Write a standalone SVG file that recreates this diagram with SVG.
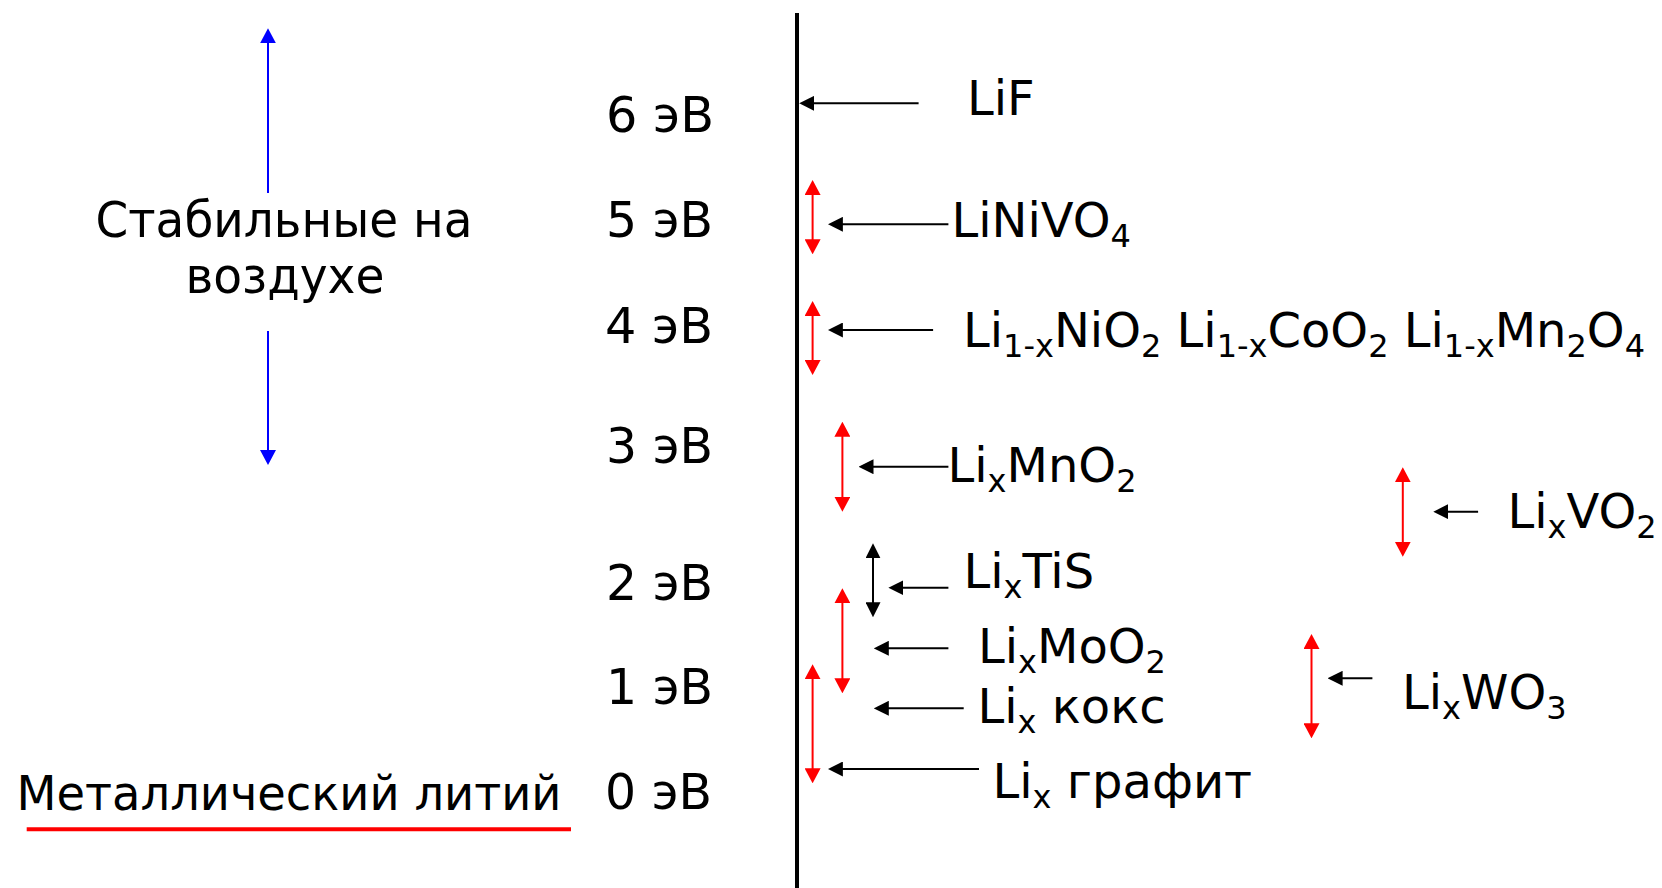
<svg xmlns="http://www.w3.org/2000/svg" width="1662" height="888" viewBox="0 0 1662 888">
<style>
text{font-family:"DejaVu Sans","Noto Sans",sans-serif;fill:#000}
.e{font-size:50px}
.f{font-size:48px}
.sb{font-size:32px}
.blk{stroke:#000;stroke-width:2;fill:none}
.red{stroke:#f00;stroke-width:2;fill:none}
.blu{stroke:#00f;stroke-width:2;fill:none}
</style>
<defs>
<marker id="mb" markerUnits="userSpaceOnUse" markerWidth="15" markerHeight="15" refX="11" refY="7.5" orient="auto-start-reverse"><path d="M0,0 L15,7.5 L0,15 z" fill="#000"/></marker>
<marker id="mr" markerUnits="userSpaceOnUse" markerWidth="15" markerHeight="16" refX="11" refY="8" orient="auto-start-reverse"><path d="M0,0 L15,8 L0,16 z" fill="#f00"/></marker>
<marker id="ml" markerUnits="userSpaceOnUse" markerWidth="15" markerHeight="16" refX="11" refY="8" orient="auto-start-reverse"><path d="M0,0 L15,8 L0,16 z" fill="#00f"/></marker>
</defs>
<rect width="1662" height="888" fill="#fff"/>
<g id="axis"><line x1="797" y1="13" x2="797" y2="888" stroke="#000" stroke-width="4"/></g>
<g id="connectors">
<line class="blu" x1="268" y1="193" x2="268" y2="32.3" marker-end="url(#ml)"/>
<line class="blu" x1="268" y1="331" x2="268" y2="461" marker-end="url(#ml)"/>
<line class="blk" x1="918.6" y1="103.3" x2="803.2" y2="103.3" marker-end="url(#mb)"/>
<line class="blk" x1="948.4" y1="224.3" x2="831.9" y2="224.3" marker-end="url(#mb)"/>
<line class="blk" x1="933.1" y1="330" x2="831.9" y2="330" marker-end="url(#mb)"/>
<line class="blk" x1="948.4" y1="466.7" x2="862.5" y2="466.7" marker-end="url(#mb)"/>
<line class="blk" x1="1478.1" y1="511.7" x2="1437.3" y2="511.7" marker-end="url(#mb)"/>
<line class="blk" x1="948.4" y1="587.7" x2="892.4" y2="587.7" marker-end="url(#mb)"/>
<line class="blk" x1="948.4" y1="648.3" x2="877.8" y2="648.3" marker-end="url(#mb)"/>
<line class="blk" x1="963.7" y1="708.3" x2="877.8" y2="708.3" marker-end="url(#mb)"/>
<line class="blk" x1="979" y1="769" x2="831.9" y2="769" marker-end="url(#mb)"/>
<line class="blk" x1="1372.4" y1="678.3" x2="1331.6" y2="678.3" marker-end="url(#mb)"/>
<line class="red" x1="812.6" y1="184" x2="812.6" y2="250.3" marker-start="url(#mr)" marker-end="url(#mr)"/>
<line class="red" x1="812.6" y1="305" x2="812.6" y2="371" marker-start="url(#mr)" marker-end="url(#mr)"/>
<line class="red" x1="842.4" y1="425.7" x2="842.4" y2="507.7" marker-start="url(#mr)" marker-end="url(#mr)"/>
<line class="red" x1="842.4" y1="592.3" x2="842.4" y2="689.3" marker-start="url(#mr)" marker-end="url(#mr)"/>
<line class="red" x1="812.6" y1="668.3" x2="812.6" y2="779.3" marker-start="url(#mr)" marker-end="url(#mr)"/>
<line class="red" x1="1402.8" y1="471.3" x2="1402.8" y2="552.7" marker-start="url(#mr)" marker-end="url(#mr)"/>
<line class="red" x1="1311.5" y1="638" x2="1311.5" y2="734.3" marker-start="url(#mr)" marker-end="url(#mr)"/>
<line class="blk" x1="873" y1="547.3" x2="873" y2="613.3" marker-start="url(#mb)" marker-end="url(#mb)"/>
</g>
<g id="air-stable">
<text class="e" x="284" y="236.7" text-anchor="middle" textLength="377" lengthAdjust="spacingAndGlyphs">Стабильные на</text>
<text class="e" x="285" y="293.3" text-anchor="middle" textLength="199" lengthAdjust="spacingAndGlyphs">воздухе</text>
</g>
<g id="lithium-metal">
<text class="e" x="16.5" y="810" style="font-size:48px" textLength="545" lengthAdjust="spacingAndGlyphs">Металлический литий</text>
<line x1="26.7" y1="829.3" x2="571" y2="829.3" stroke="#f00" stroke-width="4"/>
</g>
<g id="scale">
<text class="e" x="606" y="131.7" textLength="108" lengthAdjust="spacingAndGlyphs">6 эВ</text>
<text class="e" x="606" y="236.7" textLength="107" lengthAdjust="spacingAndGlyphs">5 эВ</text>
<text class="e" x="605" y="343.3" textLength="108" lengthAdjust="spacingAndGlyphs">4 эВ</text>
<text class="e" x="606" y="463.3" textLength="107" lengthAdjust="spacingAndGlyphs">3 эВ</text>
<text class="e" x="606" y="600" textLength="107" lengthAdjust="spacingAndGlyphs">2 эВ</text>
<text class="e" x="606" y="704" textLength="107" lengthAdjust="spacingAndGlyphs">1 эВ</text>
<text class="e" x="605" y="809.3" textLength="107" lengthAdjust="spacingAndGlyphs">0 эВ</text>
</g>
<g id="LiF"><text class="f" x="967" y="115">LiF</text></g>
<g id="LiNiVO4"><text class="f" x="951.5" y="236.7">LiNiVO<tspan class="sb" dy="10">4</tspan></text></g>
<g id="Li1-xMO2"><text class="f" x="963" y="347" textLength="682" lengthAdjust="spacingAndGlyphs">Li<tspan class="sb" dy="10">1-x</tspan><tspan dy="-10">NiO</tspan><tspan class="sb" dy="10">2</tspan><tspan dy="-10"> Li</tspan><tspan class="sb" dy="10">1-x</tspan><tspan dy="-10">CoO</tspan><tspan class="sb" dy="10">2</tspan><tspan dy="-10"> Li</tspan><tspan class="sb" dy="10">1-x</tspan><tspan dy="-10">Mn</tspan><tspan class="sb" dy="10">2</tspan><tspan dy="-10">O</tspan><tspan class="sb" dy="10">4</tspan></text></g>
<g id="LixMnO2"><text class="f" x="947.5" y="481.7">Li<tspan class="sb" dy="10">x</tspan><tspan dy="-10">MnO</tspan><tspan class="sb" dy="10">2</tspan></text></g>
<g id="LixVO2"><text class="f" x="1507.5" y="528.3">Li<tspan class="sb" dy="10">x</tspan><tspan dy="-10">VO</tspan><tspan class="sb" dy="10">2</tspan></text></g>
<g id="LixTiS"><text class="f" x="963.5" y="588.3">Li<tspan class="sb" dy="10">x</tspan><tspan dy="-10">TiS</tspan></text></g>
<g id="LixMoO2"><text class="f" x="978" y="663.3">Li<tspan class="sb" dy="10">x</tspan><tspan dy="-10">MoO</tspan><tspan class="sb" dy="10">2</tspan></text></g>
<g id="LixWO3"><text class="f" x="1402" y="709.3">Li<tspan class="sb" dy="10">x</tspan><tspan dy="-10">WO</tspan><tspan class="sb" dy="10">3</tspan></text></g>
<g id="Lix-coke"><text class="f" x="977.5" y="723.3">Li<tspan class="sb" dy="10">x</tspan><tspan dy="-10"> кокс</tspan></text></g>
<g id="Lix-graphite"><text class="f" x="992.5" y="798.3">Li<tspan class="sb" dy="10">x</tspan><tspan dy="-10"> графит</tspan></text></g>
</svg>
